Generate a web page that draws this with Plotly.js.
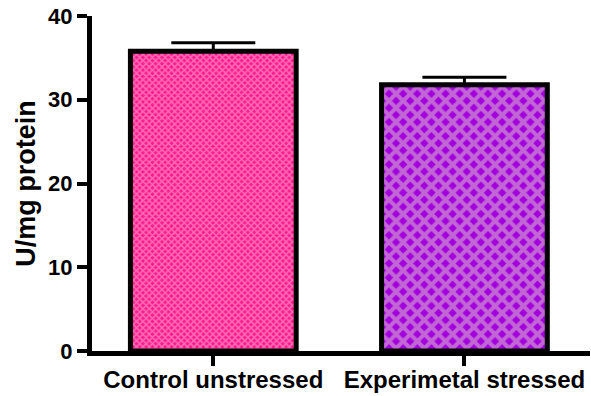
<!DOCTYPE html>
<html>
<head>
<meta charset="utf-8">
<script src="https://cdn.plot.ly/plotly-3.0.1.min.js"></script>
<style>
  html, body { margin: 0; padding: 0; background: #fff; }
  #chart { width: 591px; height: 396px; }
</style>
</head>
<body>
<div id="chart"></div>
<script>
// Enzyme activity per group (mean with upper SEM bar)
const groups = ['Control unstressed', 'Experimetal stressed'];
const activity = [35.8, 31.8];
const sem = [1.0, 0.9];
const yTicks = [0, 10, 20, 30, 40];

const darkFill = ['#FF1A8E', '#A300DE'];
const lightFill = ['#FF6CB4', '#C266D6'];
const checkSize = [4.5, 10];
const checkSolidity = [0.55, 0.65];

const font = { family: 'Liberation Sans, Arial, sans-serif', color: '#000', weight: 'bold' };

const traces = groups.map((g, i) => ({
  type: 'bar',
  x: [g],
  y: [activity[i]],
  width: 0.66,
  marker: {
    color: darkFill[i],
    line: { color: '#000', width: 5 },
    pattern: {
      shape: 'x',
      fillmode: 'replace',
      bgcolor: darkFill[i],
      fgcolor: lightFill[i],
      size: checkSize[i],
      solidity: checkSolidity[i]
    }
  },
  error_y: {
    type: 'data',
    symmetric: false,
    array: [sem[i]],
    arrayminus: [0],
    color: '#000',
    thickness: 3,
    width: 42
  },
  hoverinfo: 'skip',
  showlegend: false
}));

const layout = {
  width: 591,
  height: 396,
  margin: { l: 92, r: 1, t: 16, b: 45 },
  paper_bgcolor: '#fff',
  plot_bgcolor: '#fff',
  xaxis: {
    type: 'category',
    range: [-0.483, 1.5],
    showline: true,
    linecolor: '#000',
    linewidth: 5,
    ticks: 'outside',
    ticklen: 10,
    tickwidth: 4,
    tickcolor: '#000',
    ticklabelstandoff: -7,
    showgrid: false,
    zeroline: false,
    tickfont: Object.assign({ size: 24 }, font)
  },
  yaxis: {
    range: [0, 40],
    tickvals: yTicks,
    ticktext: yTicks.map(String),
    showline: true,
    linecolor: '#000',
    linewidth: 5,
    ticks: 'outside',
    ticklen: 10,
    tickwidth: 4,
    tickcolor: '#000',
    showgrid: false,
    zeroline: false,
    tickfont: Object.assign({ size: 22 }, font),
    title: { text: 'U/mg protein', font: Object.assign({ size: 27 }, font), standoff: 6 }
  }
};

Plotly.newPlot('chart', traces, layout, { displayModeBar: false, staticPlot: true });
</script>
</body>
</html>
